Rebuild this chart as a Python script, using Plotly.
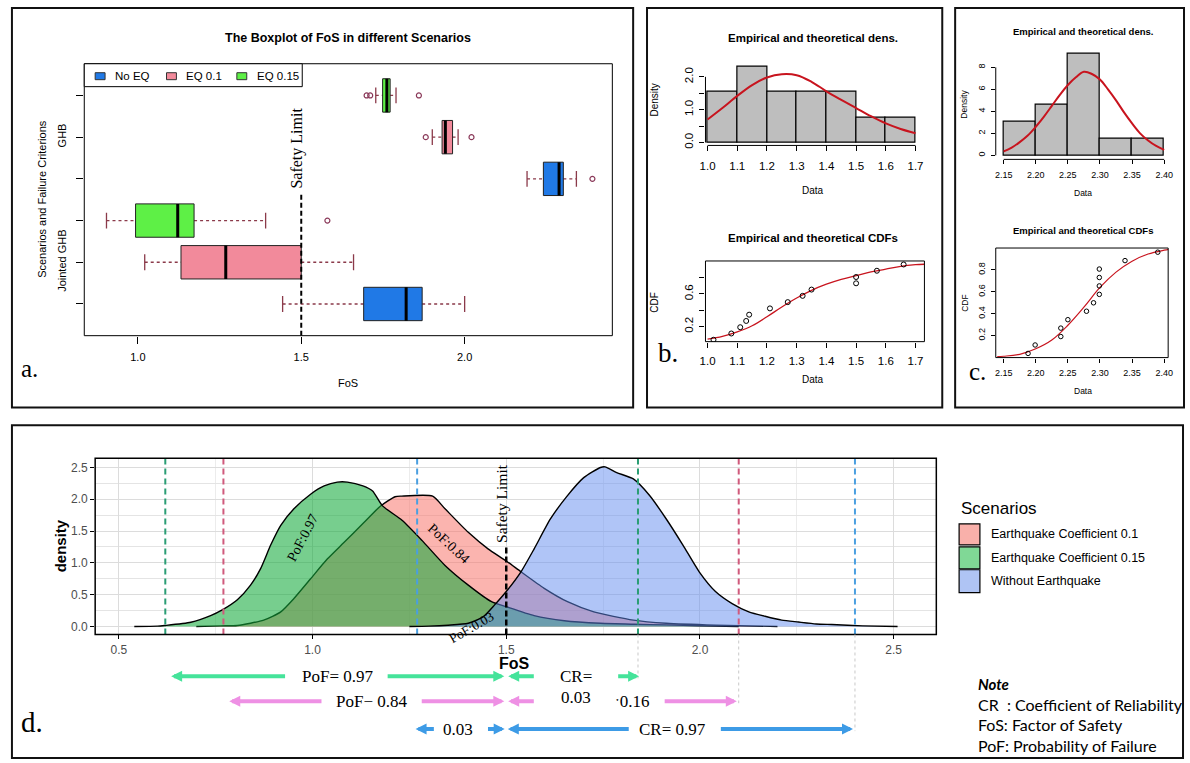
import plotly.graph_objects as go

W, H = 1190, 763
def px(x): return x / W
def py(y): return 1 - y / H

SANS = "Liberation Sans, Arial, sans-serif"
SERIF = "Liberation Serif, Times New Roman, serif"
NOTEF = "Lato, Open Sans, sans-serif"

# ---------------- DATA ----------------
# Panel a: boxplot statistics (positions bottom -> top)
box_labels = ["Jointed GHB", "Jointed GHB", "Jointed GHB", "GHB", "GHB", "GHB"]
box_scen = ["No EQ", "EQ 0.1", "EQ 0.15", "No EQ", "EQ 0.1", "EQ 0.15"]
box_lower = [1.443, 1.021, 0.904, 2.191, 1.901, 1.728]
box_q1 = [1.691, 1.132, 0.993, 2.241, 1.931, 1.749]
box_median = [1.821, 1.269, 1.122, 2.289, 1.941, 1.762]
box_q3 = [1.870, 1.500, 1.172, 2.302, 1.963, 1.772]
box_upper = [2.000, 1.660, 1.391, 2.342, 1.980, 1.790]
box_outliers = [[], [], [1.580], [2.391], [1.881, 2.021], [1.700, 1.711, 1.860]]
scen_names = ["No EQ", "EQ 0.1", "EQ 0.15"]
scen_colors = {"No EQ": "#2079E6", "EQ 0.1": "#F28A9B", "EQ 0.15": "#5EF046"}
safety_limit = 1.5

# Panel b: histogram + fitted density + CDF
hist_b_breaks = [1.0, 1.1, 1.2, 1.3, 1.4, 1.5, 1.6, 1.7]
hist_b_density = [1.538, 2.308, 1.538, 1.538, 1.538, 0.769, 0.769]
dens_b_x = [1.00, 1.05, 1.10, 1.15, 1.20, 1.25, 1.30, 1.35, 1.40, 1.45, 1.50, 1.55, 1.60, 1.65, 1.70]
dens_b_y = [0.70, 1.05, 1.42, 1.75, 1.98, 2.08, 2.05, 1.85, 1.56, 1.30, 1.05, 0.80, 0.58, 0.41, 0.28]
cdf_b_x = [1.02, 1.08, 1.11, 1.13, 1.14, 1.21, 1.27, 1.32, 1.35, 1.50, 1.50, 1.57, 1.66]
cdf_b_y = [0.038, 0.115, 0.192, 0.269, 0.346, 0.423, 0.500, 0.577, 0.654, 0.731, 0.808, 0.885, 0.962]
cdfth_b_x = [1.00, 1.05, 1.10, 1.15, 1.20, 1.25, 1.30, 1.35, 1.40, 1.45, 1.50, 1.55, 1.60, 1.65, 1.70, 1.73]
cdfth_b_y = [0.045, 0.08, 0.135, 0.21, 0.32, 0.44, 0.55, 0.645, 0.72, 0.78, 0.825, 0.87, 0.905, 0.94, 0.96, 0.965]

# Panel c
hist_c_breaks = [2.15, 2.20, 2.25, 2.30, 2.35, 2.40]
hist_c_density = [3.077, 4.615, 9.231, 1.538, 1.538]
dens_c_x = [2.15, 2.1625, 2.175, 2.1875, 2.20, 2.2125, 2.225, 2.2375, 2.25, 2.2625, 2.275,
            2.2875, 2.30, 2.3125, 2.325, 2.3375, 2.35, 2.3625, 2.375, 2.3875, 2.40]
dens_c_y = [0.35, 0.7, 1.2, 1.8, 2.6, 3.5, 4.5, 5.5, 6.4, 7.1, 7.6,
            7.4, 6.9, 6.0, 5.0, 3.9, 2.9, 2.0, 1.35, 0.85, 0.5]
cdf_c_x = [2.188, 2.199, 2.239, 2.239, 2.250, 2.279, 2.290, 2.299, 2.299, 2.299, 2.299, 2.339, 2.390]
cdf_c_y = [0.038, 0.115, 0.192, 0.269, 0.346, 0.423, 0.500, 0.577, 0.654, 0.731, 0.808, 0.885, 0.962]
cdfth_c_x = [2.14, 2.15, 2.175, 2.20, 2.225, 2.25, 2.275, 2.30, 2.325, 2.35, 2.375, 2.40, 2.41]
cdfth_c_y = [0.008, 0.012, 0.03, 0.08, 0.16, 0.295, 0.46, 0.64, 0.78, 0.88, 0.945, 0.98, 0.99]

# Panel d: density curves of FoS
d_names = ["Earthquake Coefficient 0.1", "Earthquake Coefficient 0.15", "Without Earthquake"]
d_fill = ["rgba(248,118,109,0.55)", "rgba(20,170,60,0.58)", "rgba(97,140,240,0.5)"]
d_key = ["#F9B0AA", "#80D896", "#AFC4F4"]
eq01_x = [0.70, 0.763, 0.806, 0.874, 0.918, 0.952, 0.995, 1.038, 1.081, 1.132, 1.175, 1.213, 1.23,
          1.31, 1.342, 1.402, 1.453, 1.50, 1.538, 1.598, 1.658, 1.726, 1.828, 1.913, 2.04, 2.20]
eq01_y = [0.0, 0.01, 0.015, 0.10, 0.23, 0.44, 0.75, 1.06, 1.32, 1.63, 1.89, 2.04, 2.05,
          2.05, 1.85, 1.48, 1.22, 1.03, 0.86, 0.60, 0.39, 0.23, 0.10, 0.05, 0.02, 0.0]
eq015_x = [0.54, 0.60, 0.618, 0.686, 0.737, 0.767, 0.806, 0.840, 0.866, 0.892, 0.918, 0.952, 0.995,
           1.03, 1.064, 1.09, 1.13, 1.155, 1.18, 1.231, 1.283, 1.342, 1.402, 1.462, 1.50, 1.572,
           1.65, 1.743, 1.83, 1.913, 2.0, 2.10]
eq015_y = [0.0, 0.005, 0.015, 0.067, 0.17, 0.26, 0.42, 0.65, 0.91, 1.28, 1.59, 1.85, 2.08,
           2.21, 2.27, 2.27, 2.21, 2.13, 1.90, 1.67, 1.35, 0.96, 0.65, 0.39, 0.31, 0.17,
           0.09, 0.05, 0.035, 0.025, 0.012, 0.0]
noeq_x = [1.25, 1.30, 1.35, 1.402, 1.44, 1.47, 1.50, 1.538, 1.572, 1.614, 1.657, 1.70, 1.743, 1.755,
          1.785, 1.828, 1.87, 1.913, 1.956, 1.998, 2.04, 2.083, 2.126, 2.168, 2.211, 2.254, 2.30,
          2.34, 2.42, 2.51]
noeq_y = [0.0, 0.005, 0.02, 0.05, 0.15, 0.34, 0.55, 0.86, 1.22, 1.69, 2.05, 2.34, 2.50, 2.51,
          2.42, 2.32, 2.06, 1.69, 1.28, 0.86, 0.55, 0.36, 0.23, 0.16, 0.10, 0.07, 0.04,
          0.03, 0.01, 0.0]
d_curves = [(eq01_x, eq01_y), (eq015_x, eq015_y), (noeq_x, noeq_y)]
# 95% bounds (dashed lines) per scenario
bound_lo = [0.77, 0.62, 1.27]
bound_hi = [2.10, 1.84, 2.40]
bound_col = ["#D05A7C", "#2A9D74", "#4A9FE0"]
arrow_col = ["#EE90E4", "#45E39A", "#3D9BE6"]
pof_labels = ["PoF:0.84", "PoF:0.97", "PoF:0.03"]

fig = go.Figure()
shapes, anns = [], []

def axis_common(dom, rng, **kw):
    d = dict(domain=dom, range=rng, showgrid=False, zeroline=False, ticks="outside",
             tickcolor="black", ticklen=5, tickfont=dict(family=SANS, size=11, color="black"),
             showline=False)
    d.update(kw)
    return d

def ann(text, x, y, size=11, family=SANS, color="black", angle=0, xanchor="center", bold=False, **kw):
    t = f"<b>{text}</b>" if bold else text
    a = dict(text=t, x=x, y=y, xref="paper", yref="paper", showarrow=False,
             font=dict(family=family, size=size, color=color), textangle=angle,
             xanchor=xanchor, yanchor="middle")
    a.update(kw)
    anns.append(a)

# ---------------- Panel a ----------------
for i in range(6):
    yc = i + 1
    col = scen_colors[box_scen[i]]
    wcol = "#8B3A4A"
    shapes.append(dict(type="line", xref="x", yref="y", x0=box_lower[i], x1=box_q1[i], y0=yc, y1=yc,
                       line=dict(color=wcol, width=1.3, dash="3px,3px")))
    shapes.append(dict(type="line", xref="x", yref="y", x0=box_q3[i], x1=box_upper[i], y0=yc, y1=yc,
                       line=dict(color=wcol, width=1.3, dash="3px,3px")))
    for xv in (box_lower[i], box_upper[i]):
        shapes.append(dict(type="line", xref="x", yref="y", x0=xv, x1=xv, y0=yc - 0.19, y1=yc + 0.19,
                           line=dict(color=wcol, width=1.3)))
    shapes.append(dict(type="rect", xref="x", yref="y", x0=box_q1[i], x1=box_q3[i], y0=yc - 0.4, y1=yc + 0.4,
                       fillcolor=col, line=dict(color="#222222", width=1)))
    shapes.append(dict(type="line", xref="x", yref="y", x0=box_median[i], x1=box_median[i], y0=yc - 0.4,
                       y1=yc + 0.4, line=dict(color="black", width=3)))
    if box_outliers[i]:
        fig.add_trace(go.Scatter(x=box_outliers[i], y=[yc] * len(box_outliers[i]), mode="markers",
                                 xaxis="x", yaxis="y", hoverinfo="skip",
                                 marker=dict(symbol="circle-open", size=5, color="#8B3A5A",
                                             line=dict(width=1.2))))
# safety limit
shapes.append(dict(type="line", xref="x", yref="y", x0=safety_limit, x1=safety_limit, y0=0.24, y1=3.68,
                   line=dict(color="black", width=2, dash="5px,3px")))
anns.append(dict(text="Safety Limit", x=safety_limit - 0.013, y=4.75, xref="x", yref="y", showarrow=False,
                 textangle=-90, font=dict(family=SERIF, size=16, color="black")))
# plot frame
shapes.append(dict(type="rect", xref="x domain", yref="y domain", x0=0, x1=1, y0=0, y1=1,
                   line=dict(color="black", width=1)))
# legend a
shapes.append(dict(type="rect", xref="paper", yref="paper", x0=px(79), x1=px(299), y0=py(87), y1=py(64),
                   line=dict(color="black", width=1), fillcolor="white"))
for nm, lx in zip(scen_names, [90, 162, 233]):
    shapes.append(dict(type="rect", xref="paper", yref="paper", x0=px(lx), x1=px(lx + 10), y0=py(80), y1=py(73),
                       fillcolor=scen_colors[nm], line=dict(color="#333333", width=1)))
    ann(nm, px(lx + 18), py(76), size=11.5, xanchor="left")

ann("The Boxplot of FoS in different Scenarios", px(345), py(38), size=12.5, bold=True)
ann("FoS", px(345), py(385), size=11)
ann("Scenarios and Failure Criterions", px(37), py(200), size=11, angle=-90)
ann("a.", px(24), py(370), size=25, family=SERIF)

# ---------------- Panel b ----------------
b_cent = [(hist_b_breaks[i] + hist_b_breaks[i + 1]) / 2 for i in range(len(hist_b_density))]
fig.add_trace(go.Bar(x=b_cent, y=hist_b_density, width=0.1, xaxis="x2", yaxis="y2",
                     marker=dict(color="#BEBEBE", line=dict(color="black", width=1.2)), hoverinfo="skip"))
fig.add_trace(go.Scatter(x=dens_b_x, y=dens_b_y, mode="lines", line=dict(color="#C8141E", width=2, shape="spline"),
                         xaxis="x2", yaxis="y2", hoverinfo="skip"))
fig.add_trace(go.Scatter(x=cdfth_b_x, y=cdfth_b_y, mode="lines", line=dict(color="#C8141E", width=1.3, shape="spline"),
                         xaxis="x3", yaxis="y3", hoverinfo="skip"))
fig.add_trace(go.Scatter(x=cdf_b_x, y=cdf_b_y, mode="markers", xaxis="x3", yaxis="y3", hoverinfo="skip",
                         marker=dict(symbol="circle-open", size=5, color="black", line=dict(width=1))))
shapes.append(dict(type="line", xref="x2", yref="y2 domain", x0=1.0, x1=1.7, y0=0, y1=0,
                   line=dict(color="black", width=1)))
shapes.append(dict(type="line", xref="x2 domain", yref="y2", x0=0, x1=0, y0=0, y1=2.0,
                   line=dict(color="black", width=1)))
shapes.append(dict(type="rect", xref="x3 domain", yref="y3 domain", x0=0, x1=1, y0=0, y1=1,
                   line=dict(color="black", width=1)))
ann("Empirical and theoretical dens.", px(815), py(38), size=11.5, bold=True)
ann("Density", px(655), py(100), size=10, angle=-90)
ann("Data", px(815), py(191), size=10)
ann("Empirical and theoretical CDFs", px(815), py(239), size=11.5, bold=True)
ann("CDF", px(655), py(303), size=10, angle=-90)
ann("Data", px(815), py(381), size=10)
ann("b.", px(668), py(354), size=27, family=SERIF)

# ---------------- Panel c ----------------
c_cent = [(hist_c_breaks[i] + hist_c_breaks[i + 1]) / 2 for i in range(len(hist_c_density))]
fig.add_trace(go.Bar(x=c_cent, y=hist_c_density, width=0.05, xaxis="x4", yaxis="y4",
                     marker=dict(color="#BEBEBE", line=dict(color="black", width=1.2)), hoverinfo="skip"))
fig.add_trace(go.Scatter(x=dens_c_x, y=dens_c_y, mode="lines", line=dict(color="#C8141E", width=2, shape="spline"),
                         xaxis="x4", yaxis="y4", hoverinfo="skip"))
fig.add_trace(go.Scatter(x=cdfth_c_x, y=cdfth_c_y, mode="lines", line=dict(color="#C8141E", width=1.2, shape="spline"),
                         xaxis="x5", yaxis="y5", hoverinfo="skip"))
fig.add_trace(go.Scatter(x=cdf_c_x, y=cdf_c_y, mode="markers", xaxis="x5", yaxis="y5", hoverinfo="skip",
                         marker=dict(symbol="circle-open", size=4.5, color="black", line=dict(width=1))))
shapes.append(dict(type="line", xref="x4", yref="y4 domain", x0=2.15, x1=2.40, y0=0, y1=0,
                   line=dict(color="black", width=1)))
shapes.append(dict(type="line", xref="x4 domain", yref="y4", x0=0, x1=0, y0=0, y1=8,
                   line=dict(color="black", width=1)))
shapes.append(dict(type="rect", xref="x5 domain", yref="y5 domain", x0=0, x1=1, y0=0, y1=1,
                   line=dict(color="black", width=1)))
ann("Empirical and theoretical dens.", px(1087), py(32), size=9.5, bold=True)
ann("Density", px(967), py(105), size=8.5, angle=-90)
ann("Data", px(1087), py(194), size=8.5)
ann("Empirical and theoretical CDFs", px(1087), py(231), size=9.5, bold=True)
ann("CDF", px(968), py(305), size=8.5, angle=-90)
ann("Data", px(1087), py(393), size=8.5)
ann("c.", px(981), py(373), size=25, family=SERIF)

# ---------------- Panel d ----------------
for (cx, cy), fc in zip(d_curves, d_fill):
    fig.add_trace(go.Scatter(x=cx, y=cy, mode="lines", fill="tozeroy", fillcolor=fc,
                             line=dict(color="black", width=1.4, shape="spline", smoothing=0.6),
                             xaxis="x6", yaxis="y6", hoverinfo="skip"))
for lo, hi, c in zip(bound_lo, bound_hi, bound_col):
    for xv in (lo, hi):
        shapes.append(dict(type="line", xref="x6", yref="y6 domain", x0=xv, x1=xv, y0=0, y1=1,
                           line=dict(color=c, width=2, dash="6px,4px")))
shapes.append(dict(type="line", xref="x6", yref="y6", x0=safety_limit, x1=safety_limit, y0=-0.126, y1=1.25,
                   line=dict(color="black", width=2.5, dash="6px,3px")))
shapes.append(dict(type="rect", xref="x6 domain", yref="y6 domain", x0=0, x1=1, y0=0, y1=1,
                   line=dict(color="black", width=1.5)))
anns.append(dict(text="Safety Limit", x=safety_limit - 0.014, y=1.94, xref="x6", yref="y6", showarrow=False,
                 textangle=-90, font=dict(family=SERIF, size=15.5, color="black")))
# curve labels
anns.append(dict(text=pof_labels[1], x=0.975, y=1.40, xref="x6", yref="y6", showarrow=False,
                 textangle=-62, font=dict(family=SERIF, size=14, color="black")))
anns.append(dict(text=pof_labels[0], x=1.351, y=1.30, xref="x6", yref="y6", showarrow=False,
                 textangle=43, font=dict(family=SERIF, size=14, color="black")))
anns.append(dict(text=pof_labels[2], x=1.41, y=-0.02, xref="x6", yref="y6", showarrow=False,
                 textangle=-30, font=dict(family=SERIF, size=13.5, color="black")))

# arrows below the density plot
row_y = [704, 679, 732]   # pink, green, blue rows (px)
def arrow(head, tail, ypix, col):
    anns.append(dict(text="", x=head, y=py(ypix), xref="x6", yref="paper", ax=tail, ay=0,
                     axref="x6", ayref="pixel", showarrow=True, arrowhead=2, arrowsize=0.55,
                     arrowwidth=4, arrowcolor=col))
def dtext(t, xv, ypix, size=17):
    anns.append(dict(text=t, x=xv, y=py(ypix), xref="x6", yref="paper", showarrow=False,
                     xanchor="center", yanchor="middle",
                     font=dict(family=SERIF, size=size, color="black")))
# left-side (PoF) arrows and right-side (CR) arrows
gaps_left = [(1.027, 1.278), (0.933, 1.19), None]
for k in range(3):
    lo, hi, col, yy = bound_lo[k], bound_hi[k], arrow_col[k], row_y[k]
    if gaps_left[k]:
        arrow(lo + 0.015, gaps_left[k][0], yy, col)
        arrow(safety_limit - 0.005, gaps_left[k][1], yy, col)
    else:
        arrow(lo - 0.004, lo + 0.047, yy, col)
        arrow(safety_limit - 0.004, safety_limit - 0.051, yy, col)
# right side
arrow(safety_limit + 0.005, 1.575, row_y[1], arrow_col[1])
arrow(bound_hi[1] + 0.003, 1.785, row_y[1], arrow_col[1])
arrow(safety_limit + 0.005, 1.575, row_y[0], arrow_col[0])
arrow(bound_hi[0] - 0.005, 1.905, row_y[0], arrow_col[0])
arrow(safety_limit + 0.004, 1.82, row_y[2], arrow_col[2])
arrow(bound_hi[2] - 0.005, 2.05, row_y[2], arrow_col[2])
dtext("PoF= 0.97", 1.065, 679)
dtext("PoF\u2212 0.84", 1.152, 704)
dtext("CR=", 1.679, 679)
dtext("0.03", 1.679, 700)
dtext("\u02d10.16", 1.824, 704)
dtext("0.03", 1.376, 732)
dtext("CR= 0.97", 1.93, 732)
# dotted guides from upper bounds down to arrow rows
for k in range(3):
    shapes.append(dict(type="line", xref="x6", yref="paper", x0=bound_hi[k], x1=bound_hi[k],
                       y0=py(637), y1=py(row_y[k] + 2), line=dict(color="#C8C8C8", width=1, dash="dot")))

ann("density", px(55), py(548), size=15, angle=-90, bold=True)
ann("FoS", px(513), py(666), size=16, bold=True)
ann("d.", px(26), py(725), size=29, family=SERIF)

# legend d
ann("Scenarios", px(962), py(511), size=17, xanchor="left")
key_y = [(526, 547), (549, 571), (572, 595)]
for nm, kc, (ky0, ky1) in zip(d_names, d_key, key_y):
    shapes.append(dict(type="rect", xref="paper", yref="paper", x0=px(962), x1=px(983), y0=py(ky1), y1=py(ky0),
                       fillcolor=kc, line=dict(color="black", width=1.2)))
    ann(nm, px(992), py((ky0 + ky1) / 2), size=12.5, xanchor="left")

# note
ann("<b><i>Note</i></b>", px(979), py(687), size=15, family=NOTEF, xanchor="left")
ann("CR  : Coefficient of Reliability", px(979), py(707), size=16, family=NOTEF, xanchor="left")
ann("FoS: Factor of Safety", px(979), py(727), size=16, family=NOTEF, xanchor="left")
ann("PoF: Probability of Failure", px(979), py(748), size=16, family=NOTEF, xanchor="left")

# panel frames
for (x0, y0, x1, y1) in [(6, 8, 633, 409), (647, 8, 945, 409), (958, 8, 1189, 409), (6, 427, 1188, 761)]:
    shapes.append(dict(type="rect", xref="paper", yref="paper", x0=px(x0), x1=px(x1), y0=py(y1), y1=py(y0),
                       line=dict(color="#111111", width=2)))

fig.update_layout(
    width=W, height=H, margin=dict(l=0, r=0, t=0, b=0),
    paper_bgcolor="white", plot_bgcolor="white", showlegend=False, bargap=0,
    xaxis=axis_common([px(79), px(612)], [0.836, 2.452], tickvals=[1.0, 1.5, 2.0],
                      ticktext=["1.0", "1.5", "2.0"], ticklen=7, ticklabelstandoff=4),
    yaxis=axis_common([py(337), py(64)], [0.24, 6.76], tickvals=[1, 2, 3, 4, 5, 6],
                      ticktext=["", "Jointed GHB", "", "", "GHB", ""], tickangle=-90, ticklen=7,
                      ticklabelstandoff=6),
    xaxis2=axis_common([px(706), px(927)], [0.993, 1.73], tickvals=[1.0, 1.1, 1.2, 1.3, 1.4, 1.5, 1.6, 1.7],
                       ticktext=["1.0", "1.1", "1.2", "1.3", "1.4", "1.5", "1.6", "1.7"], anchor="y2",
                       tickfont=dict(family=SANS, size=11.5, color="black"), ticklabelstandoff=5),
    yaxis2=axis_common([py(146), py(64)], [-0.09, 2.40], tickvals=[0, 0.5, 1.0, 1.5, 2.0],
                       ticktext=["0.0", "", "1.0", "", "2.0"], tickangle=-90, anchor="x2",
                       tickfont=dict(family=SANS, size=11.5, color="black"), ticklabelstandoff=2),
    xaxis3=axis_common([px(706), px(927)], [0.993, 1.73], tickvals=[1.0, 1.1, 1.2, 1.3, 1.4, 1.5, 1.6, 1.7],
                       ticktext=["1.0", "1.1", "1.2", "1.3", "1.4", "1.5", "1.6", "1.7"], anchor="y3",
                       tickfont=dict(family=SANS, size=11.5, color="black"), ticklabelstandoff=4),
    yaxis3=axis_common([py(343), py(262)], [0.015, 1.005], tickvals=[0.2, 0.4, 0.6, 0.8],
                       ticktext=["0.2", "", "0.6", ""], tickangle=-90, anchor="x3",
                       tickfont=dict(family=SANS, size=11.5, color="black"), ticklabelstandoff=2),
    xaxis4=axis_common([px(999), px(1173)], [2.1377, 2.4062], tickvals=[2.15, 2.20, 2.25, 2.30, 2.35, 2.40],
                       ticktext=["2.15", "2.20", "2.25", "2.30", "2.35", "2.40"], anchor="y4",
                       tickfont=dict(family=SANS, size=9, color="black"), ticklen=4, ticklabelstandoff=3),
    yaxis4=axis_common([py(160), py(50)], [-0.37, 9.6], tickvals=[0, 2, 4, 6, 8], tickangle=-90, anchor="x4",
                       tickfont=dict(family=SANS, size=9, color="black"), ticklen=4, ticklabelstandoff=2),
    xaxis5=axis_common([px(999), px(1173)], [2.1377, 2.4062], tickvals=[2.15, 2.20, 2.25, 2.30, 2.35, 2.40],
                       ticktext=["2.15", "2.20", "2.25", "2.30", "2.35", "2.40"], anchor="y5",
                       tickfont=dict(family=SANS, size=9, color="black"), ticklen=4, ticklabelstandoff=3),
    yaxis5=axis_common([py(359), py(249)], [0.0, 1.0], tickvals=[0.2, 0.4, 0.6, 0.8],
                       ticktext=["0.2", "0.4", "0.6", "0.8"], tickangle=-90, anchor="x5",
                       tickfont=dict(family=SANS, size=9, color="black"), ticklen=4, ticklabelstandoff=2),
    xaxis6=axis_common([px(90), px(939)], [0.439, 2.61], tickvals=[0.5, 1.0, 1.5, 2.0, 2.5],
                       ticktext=["0.5", "1.0", "1.5", "2.0", "2.5"], anchor="y6", showgrid=True,
                       gridcolor="#DCDCDC", gridwidth=1, ticklen=4,
                       minor=dict(tickvals=[0.75, 1.25, 1.75, 2.25], showgrid=True, gridcolor="#ECECEC", ticks=""),
                       tickfont=dict(family=SANS, size=12, color="#4D4D4D")),
    yaxis6=axis_common([py(637), py(460)], [-0.126, 2.646], tickvals=[0, 0.5, 1.0, 1.5, 2.0, 2.5],
                       ticktext=["0.0", "0.5", "1.0", "1.5", "2.0", "2.5"], anchor="x6", showgrid=True,
                       gridcolor="#DCDCDC", gridwidth=1, ticklen=4,
                       minor=dict(tickvals=[0.25, 0.75, 1.25, 1.75, 2.25], showgrid=True, gridcolor="#E4E4E4", ticks=""),
                       tickfont=dict(family=SANS, size=12, color="#4D4D4D")),
    shapes=shapes, annotations=anns,
)

fig.write_html("out.html")
